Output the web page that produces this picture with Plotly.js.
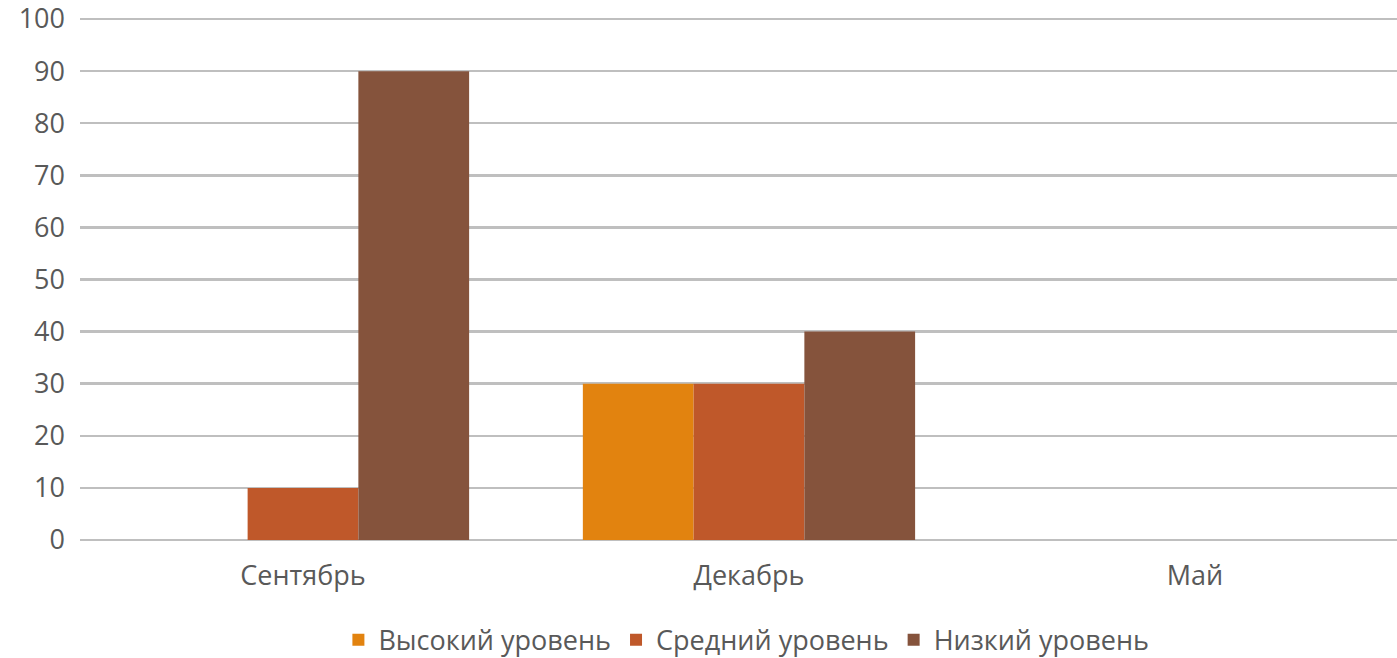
<!DOCTYPE html>
<html>
<head>
<meta charset="utf-8">
<script src="https://cdn.plot.ly/plotly-3.0.1.min.js"></script>
<style>html,body{margin:0;padding:0;background:#fff;}#chart{width:1397px;height:658px;}</style>
</head>
<body>
<div id="chart"></div>
<script>
const categories = ['Сентябрь', 'Декабрь', 'Май'];
const seriesNames = ['Высокий уровень', 'Средний уровень', 'Низкий уровень'];
const high = [0, 30, 0];
const mid = [10, 30, 0];
const low = [90, 40, 0];
const colors = ['#E2830F', '#BF582A', '#85533C'];
const yTicks = [0, 10, 20, 30, 40, 50, 60, 70, 80, 90, 100];

const values = [high, mid, low];
const traces = values.map((v, i) => ({
  type: 'bar',
  x: categories,
  y: v,
  name: seriesNames[i],
  marker: {color: colors[i], line: {width: 0}},
  hoverinfo: 'x+y+name'
}));

const layout = {
  width: 1397, height: 658,
  margin: {l: 80, r: 0, t: 18, b: 118, autoexpand: false},
  paper_bgcolor: '#fff', plot_bgcolor: '#fff',
  barmode: 'group', bargap: 0.255, bargroupgap: 0,
  font: {family: 'Open Sans, Liberation Sans, sans-serif', color: '#595959', size: 27},
  xaxis: {
    type: 'category', range: [-0.5, 2.453], showgrid: false, zeroline: false,
    showline: false, ticks: '', tickfont: {size: 27, color: '#595959'},
    ticklabelstandoff: 17, fixedrange: true
  },
  yaxis: {
    range: [0, 100.2], tickvals: yTicks, ticktext: yTicks.map(String),
    showgrid: true, gridcolor: '#BFBFBF', gridwidth: 2.5,
    zeroline: true, zerolinecolor: '#BFBFBF', zerolinewidth: 2.5,
    showline: false, ticks: '', tickfont: {size: 27, color: '#595959'},
    ticklabelstandoff: 14, fixedrange: true, ticklabeloverflow: 'allow'
  },
  legend: {
    orientation: 'h', x: 0.506, xanchor: 'center', y: -0.192, yanchor: 'middle',
    font: {size: 27, color: '#595959'}, traceorder: 'normal', itemwidth: 30
  },
  showlegend: true
};

Plotly.newPlot('chart', traces, layout, {displayModeBar: false, staticPlot: true});
</script>
</body>
</html>
